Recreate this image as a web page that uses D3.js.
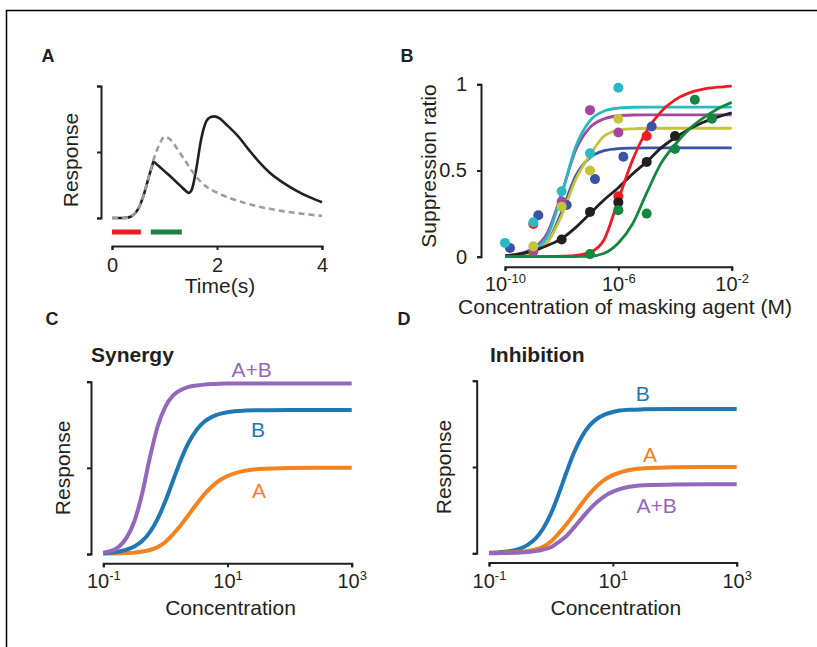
<!DOCTYPE html>
<html><head><meta charset="utf-8">
<script src="https://cdn.jsdelivr.net/npm/d3@7"></script>
<style>
body{margin:0;background:#fff;}
svg{display:block;font-family:"Liberation Sans",Arial,Helvetica,sans-serif;}
</style></head><body>
<svg id="chart" width="817" height="647"></svg>
<script>
// ---------- Panel A data ----------
const timeSolid = [0,0.2,0.3,0.4,0.5,0.6,0.7,0.79,0.9,1.0,1.1,1.2,1.3,1.4,1.46,1.52,1.6,1.7,1.8,1.88,1.95,2.05,2.2,2.4,2.6,2.8,3.0,3.25,3.5,3.75,4.0];
const respSolid = [0,0,0.003,0.02,0.07,0.17,0.31,0.43,0.39,0.355,0.32,0.282,0.245,0.207,0.19,0.215,0.36,0.6,0.735,0.765,0.77,0.755,0.70,0.62,0.52,0.425,0.345,0.27,0.21,0.16,0.12];
const solidPeakIndex = 7;
const timeDashed = [0,0.2,0.3,0.4,0.5,0.6,0.7,0.79,0.9,1.0,1.1,1.2,1.3,1.4,1.5,1.6,1.7,1.8,1.9,2.0,2.25,2.5,2.75,3.0,3.25,3.5,3.75,4.0];
const respDashed = [0,0,0.003,0.02,0.07,0.17,0.31,0.44,0.555,0.615,0.598,0.55,0.49,0.43,0.37,0.315,0.27,0.237,0.212,0.192,0.15,0.118,0.09,0.07,0.052,0.038,0.026,0.016];
const stimRed = [0, 0.55];
const stimGreen = [0.74, 1.33];
const timeTicks = [0, 2, 4];
const respTicks = [0, 0.5, 1];

// ---------- Panel B data ----------
const fitLogB = [-10,-9.5,-9,-8.5,-8,-7.5,-7,-6.5,-6,-5.5,-5,-4.5,-4,-3.5,-3,-2.5,-2];
const fitBlue   = [0.003,0.009,0.028,0.085,0.26,0.47,0.575,0.615,0.627,0.63,0.631,0.631,0.631,0.631,0.631,0.631,0.631];
const fitYellow = [0.003,0.009,0.028,0.085,0.24,0.45,0.59,0.70,0.733,0.742,0.745,0.745,0.745,0.745,0.745,0.745,0.745];
const fitPurple = [0.006,0.018,0.05,0.14,0.37,0.62,0.75,0.80,0.817,0.822,0.823,0.823,0.823,0.823,0.823,0.823,0.823];
const fitCyan   = [0.004,0.012,0.04,0.12,0.36,0.64,0.79,0.845,0.862,0.867,0.868,0.868,0.868,0.868,0.868,0.868,0.868];
const fitBlack  = [0.005,0.015,0.035,0.065,0.105,0.17,0.25,0.33,0.40,0.48,0.55,0.63,0.69,0.74,0.78,0.81,0.835];
const fitRed    = [0,0,0,0.001,0.003,0.008,0.025,0.10,0.33,0.56,0.73,0.84,0.91,0.95,0.972,0.983,0.99];
const fitGreen  = [0,0,0,0,0,0.001,0.003,0.02,0.08,0.19,0.37,0.54,0.65,0.74,0.805,0.857,0.895];

const dotsRed    = [[1e-9,0.19],[1e-6,0.35],[1e-5,0.70]];
const dotsBlue   = [[1.5e-10,0.05],[1.5e-9,0.24],[1.5e-8,0.30],[1.5e-7,0.45],[1.5e-6,0.58],[1.5e-5,0.755]];
const dotsPurple = [[1e-9,0.03],[1e-8,0.32],[1e-7,0.85],[1e-6,0.72]];
const dotsYellow = [[1e-9,0.06],[1e-8,0.29],[1e-7,0.50],[1e-6,0.80]];
const dotsCyan   = [[1e-10,0.08],[1e-9,0.20],[1e-8,0.38],[1e-7,0.60],[1e-6,0.98]];
const dotsBlack  = [[1e-8,0.10],[1e-7,0.26],[1e-6,0.315],[1e-5,0.55],[1e-4,0.70]];
const dotsGreen  = [[1e-7,0.015],[1e-6,0.27],[1e-5,0.25],[1e-4,0.625],[5e-4,0.91],[2e-3,0.80]];
const ratioTicks = [0, 0.5, 1];
const concTicksB = [1e-10, 1e-6, 1e-2];

// ---------- Panels C / D data ----------
const concLogCD = [-1,-0.875,-0.75,-0.625,-0.5,-0.375,-0.25,-0.125,0,0.125,0.25,0.375,0.5,0.625,0.75,0.875,1,1.25,1.5,2,2.5,3];
const synA  = [0.002,0.003,0.004,0.006,0.008,0.014,0.023,0.04,0.07,0.115,0.168,0.228,0.289,0.345,0.392,0.428,0.453,0.481,0.493,0.499,0.5,0.5];
const synB  = [0.004,0.008,0.014,0.025,0.044,0.075,0.127,0.204,0.307,0.428,0.547,0.647,0.719,0.767,0.796,0.813,0.823,0.832,0.834,0.836,0.836,0.836];
const synAB = [0.008,0.018,0.042,0.095,0.19,0.35,0.56,0.74,0.855,0.92,0.952,0.97,0.978,0.983,0.986,0.988,0.989,0.99,0.99,0.99,0.99,0.99];
const inhA  = [0.002,0.003,0.004,0.006,0.008,0.013,0.022,0.038,0.068,0.115,0.168,0.228,0.289,0.345,0.392,0.428,0.453,0.481,0.493,0.499,0.5,0.5];
const inhB  = [0.0025,0.0046,0.0084,0.015,0.027,0.049,0.085,0.144,0.23,0.343,0.468,0.585,0.677,0.741,0.781,0.805,0.819,0.831,0.834,0.836,0.836,0.836];
const inhAB = [0.001,0.001,0.002,0.003,0.005,0.008,0.013,0.022,0.035,0.065,0.10,0.15,0.204,0.255,0.298,0.333,0.357,0.384,0.394,0.399,0.4,0.4];
const concTicksCD = [0.1, 10, 1000];
const responseTicksCD = [0, 0.5, 1];

// ---------- drawing ----------
const svg = d3.select("#chart");
const ink = "#231f20";
const FAM = '"Liberation Sans",Arial,Helvetica,sans-serif';

svg.append("rect").attr("x",6.5).attr("y",10.5).attr("width",1000).attr("height",1000)
  .attr("fill","none").attr("stroke","#000").attr("stroke-width",1.5);

function styleAxis(g){
  g.attr("font-family",FAM).attr("font-size",20);
  g.select(".domain").attr("stroke",ink).attr("stroke-width",2);
  g.selectAll(".tick line").attr("stroke",ink).attr("stroke-width",2);
  g.selectAll(".tick text").attr("fill",ink);
}
function superLabels(g){
  g.selectAll(".tick text").each(function(d){
    const e = Math.round(Math.log10(d));
    const t = d3.select(this).text(null);
    t.append("tspan").text("10");
    t.append("tspan").attr("font-size",13).attr("dy",-8).text(String(e));
  });
}
function label(txt,x,y,opts={}){
  const t = svg.append("text").attr("x",x).attr("y",y).attr("fill",opts.fill||ink)
    .attr("font-size",opts.size||21).attr("text-anchor",opts.anchor||"middle").text(txt);
  if(opts.bold) t.attr("font-weight","bold");
  return t;
}
function vlabel(txt,x,y){
  svg.append("text").attr("transform",`translate(${x},${y}) rotate(-90)`).attr("fill",ink)
    .attr("font-size",21).attr("text-anchor","middle").text(txt);
}

// Panel letters
label("A",41.5,62,{bold:true,size:18,anchor:"start"});
label("B",400.5,62,{bold:true,size:18,anchor:"start"});
label("C",45.5,325,{bold:true,size:18,anchor:"start"});
label("D",397.5,325,{bold:true,size:18,anchor:"start"});

// ===== Panel A =====
const xA = d3.scaleLinear([0,4],[112,322]);
const yA = d3.scaleLinear([0,1],[218,86]);
svg.append("g").attr("transform","translate(101,0)")
  .call(d3.axisLeft(yA).tickValues(respTicks).tickSize(4).tickSizeOuter(4).tickFormat(""))
  .call(styleAxis);
svg.append("g").attr("transform","translate(0,246)")
  .call(d3.axisBottom(xA).tickValues(timeTicks).tickSize(4).tickSizeOuter(4).tickPadding(8).tickFormat(d3.format("d")))
  .call(styleAxis);
const lineA = d3.line().x(d=>xA(d[0])).y(d=>yA(d[1])).curve(d3.curveMonotoneX);
const solidPts = timeSolid.map((t,i)=>[t,respSolid[i]]);
[solidPts.slice(0,solidPeakIndex+1), solidPts.slice(solidPeakIndex)].forEach(seg=>{
  svg.append("path").attr("d",lineA(seg)).attr("fill","none").attr("stroke",ink).attr("stroke-width",2.6);
});
svg.append("path").attr("d",lineA(timeDashed.map((t,i)=>[t,respDashed[i]])))
  .attr("fill","none").attr("stroke","#9d9d9d").attr("stroke-width",2.6).attr("stroke-dasharray","6,4");
svg.append("rect").attr("x",xA(stimRed[0])).attr("y",229.5).attr("width",xA(stimRed[1])-xA(stimRed[0])).attr("height",5).attr("fill","#ed1c24");
svg.append("rect").attr("x",xA(stimGreen[0])).attr("y",229.5).attr("width",xA(stimGreen[1])-xA(stimGreen[0])).attr("height",5).attr("fill","#1b8040");
vlabel("Response",77.5,160);
label("Time(s)",220,293);

// ===== Panel B =====
const xB = d3.scaleLog([1e-10,1e-2],[505,731.7]);
const yB = d3.scaleLinear([0,1],[256.7,84.3]);
svg.append("g").attr("transform","translate(481,0)")
  .call(d3.axisLeft(yB).tickValues(ratioTicks).tickSize(4).tickSizeOuter(4).tickPadding(10).tickFormat(d=>d===0.5?"0.5":String(d)))
  .call(styleAxis);
svg.append("g").attr("transform","translate(0,266.7)")
  .call(d3.axisBottom(xB).tickValues(concTicksB).tickSize(4).tickSizeOuter(4).tickPadding(6))
  .call(styleAxis).call(superLabels);
const lineB = d3.line().x(d=>xB(Math.pow(10,d[0]))).y(d=>yB(d[1])).curve(d3.curveMonotoneX);
const fitsB = [
  [fitBlue,"#3a53a4"],[fitYellow,"#c6c23a"],[fitPurple,"#a3489c"],[fitCyan,"#29b9c2"],
  [fitBlack,ink],[fitRed,"#ec1c24"],[fitGreen,"#13873f"]
];
fitsB.forEach(([vals,col])=>{
  svg.append("path").attr("d",lineB(fitLogB.map((e,i)=>[e,vals[i]])))
    .attr("fill","none").attr("stroke",col).attr("stroke-width",2.8);
});
const dotSets = [
  [dotsRed,"#ec1c24"],[dotsBlue,"#3a53a4"],[dotsPurple,"#a3489c"],[dotsYellow,"#c6c23a"],
  [dotsCyan,"#29b9c2"],[dotsBlack,ink],[dotsGreen,"#13873f"]
];
dotSets.forEach(([pts,col])=>{
  svg.append("g").selectAll("circle").data(pts).join("circle")
    .attr("cx",d=>xB(d[0])).attr("cy",d=>yB(d[1])).attr("r",5).attr("fill",col);
});
vlabel("Suppression ratio",436,166);
label("Concentration of masking agent (M)",625,314);

// ===== Panels C & D =====
function concPanel(x0,x1,yb,yt,axX,axY,series,labels,title,titleX,respX){
  const xs = d3.scaleLog([0.1,1000],[x0,x1]);
  const ys = d3.scaleLinear([0,1],[yb,yt]);
  svg.append("g").attr("transform",`translate(${axX},0)`)
    .call(d3.axisLeft(ys).tickValues(responseTicksCD).tickSize(4).tickSizeOuter(4).tickFormat(""))
    .call(styleAxis);
  svg.append("g").attr("transform",`translate(0,${axY})`)
    .call(d3.axisBottom(xs).tickValues(concTicksCD).tickSize(4).tickSizeOuter(4).tickPadding(7))
    .call(styleAxis).call(superLabels);
  const ln = d3.line().x(d=>xs(Math.pow(10,d[0]))).y(d=>ys(d[1])).curve(d3.curveMonotoneX);
  series.forEach(([vals,col])=>{
    svg.append("path").attr("d",ln(concLogCD.map((e,i)=>[e,vals[i]])))
      .attr("fill","none").attr("stroke",col).attr("stroke-width",4);
  });
  labels.forEach(([t,x,y,col])=>label(t,x,y,{fill:col}));
  label(title,titleX,362,{bold:true,anchor:"start"});
  vlabel("Response",respX,(yb+yt)/2);
  label("Concentration",(x0+x1)/2+3,615);
}
const cOrange="#f4821f", cBlue="#1f77b4", cPurple="#9467bd";
concPanel(103.3,351.7,554,381.7,91,563.3,
  [[synA,cOrange],[synB,cBlue],[synAB,cPurple]],
  [["A+B",251.7,377,cPurple],["B",258,437,cBlue],["A",259,498,cOrange]],
  "Synergy",91,69.5);
concPanel(489,736.7,553.3,380.7,476.7,562.5,
  [[inhB,cBlue],[inhA,cOrange],[inhAB,cPurple]],
  [["B",642.7,401,cBlue],["A",650,462,cOrange],["A+B",656.7,513,cPurple]],
  "Inhibition",490,451);
</script>
</body></html>
